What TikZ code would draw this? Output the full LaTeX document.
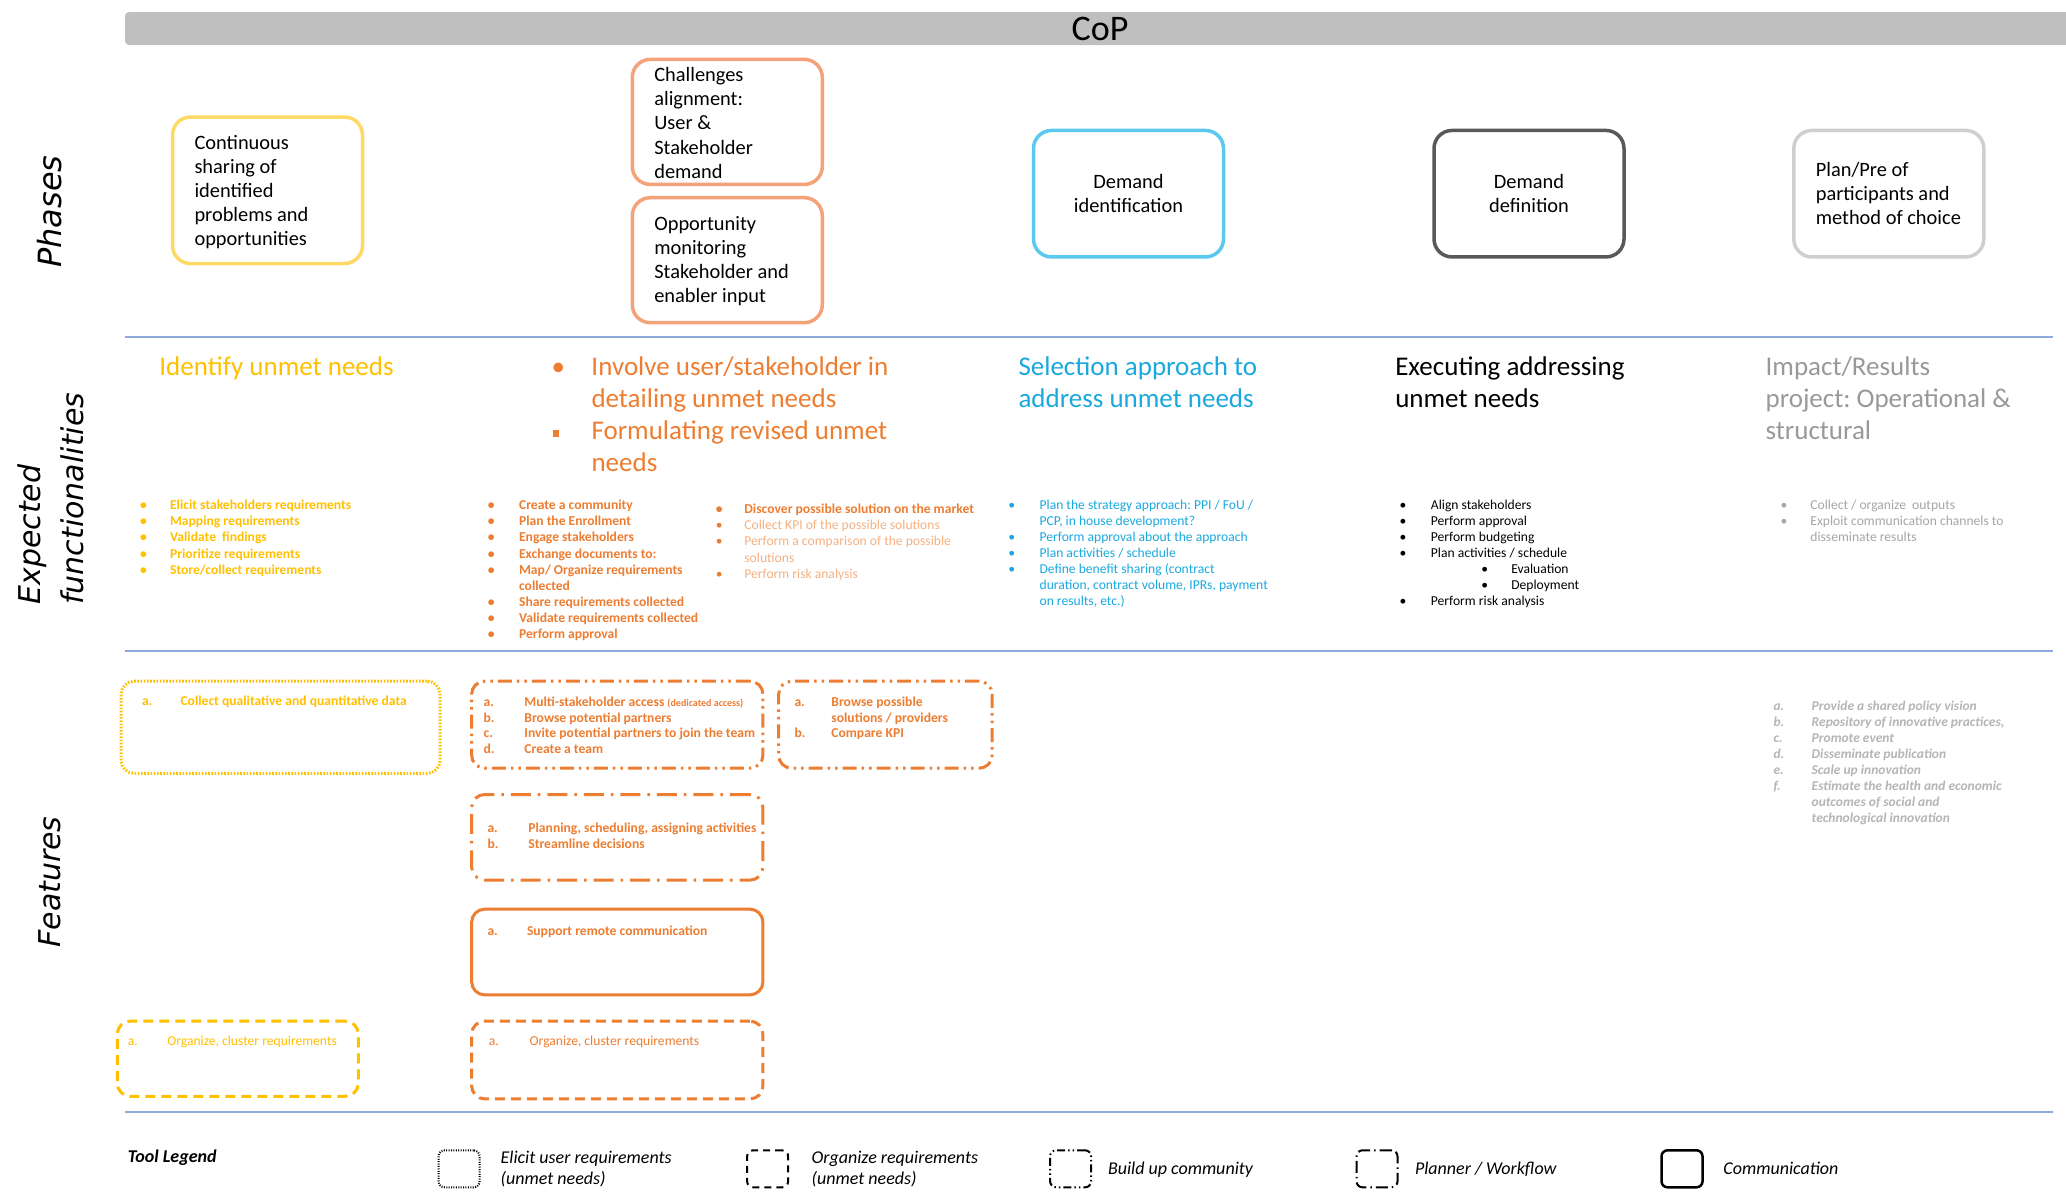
\documentclass[tikz,border=0pt]{standalone}
\usepackage{fontspec}
\setmainfont{Carlito}
\newfontfamily\sidefont{DejaVu Sans}
\frenchspacing

\definecolor{cYel}{HTML}{FFC000}
\definecolor{cYelBox}{HTML}{FFD966}
\definecolor{cOra}{HTML}{ED7D31}
\definecolor{cOraLt}{HTML}{F4B183}
\definecolor{cOraBox}{HTML}{F4A27A}
\definecolor{cBlue}{HTML}{1AA9DE}
\definecolor{cBlueBox}{HTML}{5BC8F0}
\definecolor{cDark}{HTML}{595959}
\definecolor{cLight}{HTML}{CFCFCF}
\definecolor{cGreyTxt}{HTML}{999999}
\definecolor{cGreySm}{HTML}{A6A6A6}
\definecolor{cGreyIt}{HTML}{B5B5B5}
\definecolor{cSep}{HTML}{8EA9DB}
\definecolor{cBar}{HTML}{BFBFBF}

\newcommand{\fs}[2]{\fontsize{#1}{#2}\selectfont}
% list helpers: bullet in a fixed-width box, continuation indent, stacked rows
\newcommand{\bul}[1]{\makebox[#1][l]{\textbullet}}
\newcommand{\lbl}[2]{\makebox[#1][l]{#2}}
\newcommand{\cont}[1]{\hspace*{#1}}
\newcommand{\rows}[1]{\begin{tabular}[t]{@{}l@{}}#1\end{tabular}}

\tikzset{
  every node/.style={inner sep=0pt, outer sep=0pt},
  phase/.style={draw, line width=3.5pt, rounded corners=18pt, minimum width=190pt},
  phasetext/.style={font=\fs{20.4}{24.1}, text=black},
  heading/.style={anchor=base west, font=\fs{27}{32.06}},
  small/.style={anchor=base west},
  feat/.style={anchor=base west, font=\fs{13.6}{15.8}\bfseries, text=cOra},
  tool/.style={draw, line width=3pt, rounded corners=13pt},
  dotbox/.style={tool, dash pattern=on 1.6pt off 1.6pt},
  dashbox/.style={tool, dash pattern=on 10pt off 6pt},
  ddotbox/.style={tool, dash pattern=on 14pt off 5pt on 2.5pt off 5pt on 2.5pt off 5pt},
  ldotbox/.style={tool, dash pattern=on 20pt off 7pt on 2.5pt off 7pt},
  sep/.style={draw=cSep, line width=1.6pt},
  side/.style={rotate=90, font=\sidefont\itshape\fs{30}{43.5}, align=left},
  legend/.style={anchor=base west, font=\fs{18}{21}\itshape},
  icon/.style={draw=black, line width=2pt, rounded corners=6pt,
    minimum width=41pt, minimum height=37pt},
}

\begin{document}
\begin{tikzpicture}[x=1pt, y=-1pt]
\useasboundingbox[fill=white] (0,0) rectangle (2066,1192);

% ---- header bar
\node[fill=cBar, rounded corners=4pt, minimum width=1960pt, minimum height=33pt,
      anchor=north west] (bar) at (125,12) {};
\node[font=\fs{36}{40}] (cop) at (1100,29) {CoP};

% ---- row separators
\draw[sep] (125,337) -- (2053,337);
\draw[sep] (125,651) -- (2053,651);
\draw[sep] (125,1112) -- (2053,1112);

% ---- side labels
\node[side, font=\sidefont\itshape\fs{32}{43.5}] (sPhases) at (50,211.5) {Phases};
\node[side] (sExpect) at (50.7,498.7) {Expected\\functionalities};
\node[side] (sFeat) at (50,882) {Features};

% ---- phases
\node[phase, draw=cYelBox, minimum height=146.5pt] (p1) at (267.5,190.3) {};
\node[phasetext, align=left, anchor=west] (p1t) at ([xshift=22pt,yshift=-1.5pt]p1.west)
  {Continuous\\sharing of\\identified\\problems and\\opportunities};
\node[phase, draw=cOraBox, minimum height=125pt] (p2a) at (727.3,121.9) {};
\node[phasetext, align=left, anchor=west] (p2at) at ([xshift=22pt,yshift=-1pt]p2a.west)
  {Challenges\\alignment:\\User \&\\Stakeholder\\demand};
\node[phase, draw=cOraBox, minimum height=125pt] (p2b) at (727.3,260.2) {};
\node[phasetext, align=left, anchor=west] (p2bt) at ([xshift=22pt,yshift=-1pt]p2b.west)
  {Opportunity\\monitoring\\Stakeholder and\\enabler input};
\node[phase, draw=cBlueBox, minimum height=126.5pt] (p3) at (1128.5,193.7) {};
\node[phasetext, align=center] (p3t) at (p3.center) {Demand\\identification};
\node[phase, draw=cDark, minimum height=126.5pt] (p4) at (1529,193.7) {};
\node[phasetext, align=center] (p4t) at (p4.center) {Demand\\definition};
\node[phase, draw=cLight, minimum height=126.5pt] (p5) at (1888.8,193.7) {};
\node[phasetext, align=left, anchor=west] (p5t) at ([xshift=22pt]p5.west)
  {Plan/Pre of\\participants and\\method of choice};

% ---- expected functionalities: headings
\node[heading, text=cYel] (h1) at (159.4,375.6) {Identify unmet needs};
\node[heading, text=cOra] (h2) at (551.5,375.6) {\rows{%
  \bul{40pt}Involve user/stakeholder in\\
  \cont{40pt}detailing unmet needs\\
  \lbl{40pt}{\hspace{1.2pt}\rule[3pt]{6.5pt}{6.5pt}}Formulating revised unmet\\
  \cont{40pt}needs}};
\node[heading, text=cBlue] (h3) at (1018.5,375.6) {\rows{Selection approach to\\address unmet needs}};
\node[heading, text=black] (h4) at (1395.3,375.6) {\rows{Executing addressing\\unmet needs}};
\node[heading, text=cGreyTxt] (h5) at (1765.6,375.6) {\rows{Impact/Results\\project: Operational \&\\structural}};

% ---- expected functionalities: item lists
\node[small, text=cYel, font=\fs{13.6}{16.14}\bfseries] (l1) at (140.1,509.6) {\rows{%
  \bul{30pt}Elicit stakeholders requirements\\
  \bul{30pt}Mapping requirements\\
  \bul{30pt}Validate\ \ findings\\
  \bul{30pt}Prioritize requirements\\
  \bul{30pt}Store/collect requirements}};
\node[small, text=cOra, font=\fs{13.6}{16.14}\bfseries] (l2) at (487.9,509.6) {\rows{%
  \bul{31.2pt}Create a community\\
  \bul{31.2pt}Plan the Enrollment\\
  \bul{31.2pt}Engage stakeholders\\
  \bul{31.2pt}Exchange documents to:\\
  \bul{31.2pt}Map/ Organize requirements\\
  \cont{31.2pt}collected\\
  \bul{31.2pt}Share requirements collected\\
  \bul{31.2pt}Validate requirements collected\\
  \bul{31.2pt}Perform approval}};
\node[small, text=cOraLt, font=\fs{13.6}{16.14}] (l3) at (715.9,513.6) {\rows{%
  {\color{cOra}\bfseries\bul{28.5pt}Discover possible solution on the market}\\
  {\color{cOra}\bul{28.5pt}}Collect KPI of the possible solutions\\
  {\color{cOra}\bul{28.5pt}}Perform a comparison of the possible\\
  \cont{28.5pt}solutions\\
  {\color{cOra}\bul{28.5pt}}Perform risk analysis}};
\node[small, text=cBlue, font=\fs{13.6}{16.03}] (l4) at (1008.4,509.6) {\rows{%
  \bul{31.2pt}Plan the strategy approach: PPI / FoU /\\
  \cont{31.2pt}PCP, in house development?\\
  \bul{31.2pt}Perform approval about the approach\\
  \bul{31.2pt}Plan activities / schedule\\
  \bul{31.2pt}Define benefit sharing (contract\\
  \cont{31.2pt}duration, contract volume, IPRs, payment\\
  \cont{31.2pt}on results, etc.)}};
\node[small, text=black, font=\fs{13.6}{16.03}] (l5) at (1399.7,509.6) {\rows{%
  \bul{31.2pt}Align stakeholders\\
  \bul{31.2pt}Perform approval\\
  \bul{31.2pt}Perform budgeting\\
  \bul{31.2pt}Plan activities / schedule\\
  \lbl{111.6pt}{\hspace{81.7pt}\textbullet}Evaluation\\
  \lbl{111.6pt}{\hspace{81.7pt}\textbullet}Deployment\\
  \bul{31.2pt}Perform risk analysis}};
\node[small, text=cGreySm, font=\fs{13.6}{16.03}] (l6) at (1780.5,509.6) {\rows{%
  \bul{29.9pt}Collect / organize\ \ outputs\\
  \bul{29.9pt}Exploit communication channels to\\
  \cont{29.9pt}disseminate results}};

% ---- features: tool boxes
\node[dotbox, draw=cYel, minimum width=318.8pt, minimum height=92.2pt] (f1) at (280.6,727.3) {};
\node[ddotbox, draw=cOra, minimum width=291.3pt, minimum height=87pt] (f2) at (617.3,724.7) {};
\node[ddotbox, draw=cOra, minimum width=213.5pt, minimum height=87pt] (f3) at (885.4,724.7) {};
\node[ldotbox, draw=cOra, minimum width=291.3pt, minimum height=85.6pt] (f4) at (617.3,837.3) {};
\node[tool, draw=cOra, minimum width=291.3pt, minimum height=85.7pt] (f5) at (617.3,952) {};
\node[dashbox, draw=cYel, minimum width=241.1pt, minimum height=75.1pt] (f6) at (237.8,1058.7) {};
\node[dashbox, draw=cOra, minimum width=291.3pt, minimum height=77.8pt] (f7) at (617.3,1060) {};

% ---- features: box contents
\node[feat, text=cYel] (t1) at (142,705) {\lbl{38.5pt}{a.}Collect qualitative and quantitative data};
\node[feat] (t2) at (483.6,706.3) {\rows{%
  \lbl{40.8pt}{a.}Multi-stakeholder access {\fs{10}{10}(dedicated access)}\\
  \lbl{40.8pt}{b.}Browse potential partners\\
  \lbl{40.8pt}{c.}Invite potential partners to join the team\\
  \lbl{40.8pt}{d.}Create a team}};
\node[feat] (t3) at (794.5,706.3) {\rows{%
  \lbl{36.9pt}{a.}Browse possible\\
  \cont{36.9pt}solutions / providers\\
  \lbl{36.9pt}{b.}Compare KPI}};
\node[feat] (t4) at (487.5,832.8) {\rows{%
  \lbl{40.9pt}{a.}Planning, scheduling, assigning activities\\
  \lbl{40.9pt}{b.}Streamline decisions}};
\node[feat] (t5) at (487.5,935.5) {\lbl{39.5pt}{a.}Support remote communication};
\node[feat, text=cYel, font=\fs{13.6}{15.8}] (t6) at (127.8,1045) {\lbl{39.5pt}{a.}Organize, cluster requirements};
\node[feat, font=\fs{13.6}{15.8}] (t7) at (488.8,1045) {\lbl{40.9pt}{a.}Organize, cluster requirements};

\node[anchor=base west, text=cGreyIt, font=\fs{13.5}{16.0}\bfseries\itshape] (t8) at (1773.5,710.2) {\rows{%
  \lbl{38.2pt}{a.}Provide a shared policy vision\\
  \lbl{38.2pt}{b.}Repository of innovative practices,\\
  \lbl{38.2pt}{c.}Promote event\\
  \lbl{38.2pt}{d.}Disseminate publication\\
  \lbl{38.2pt}{e.}Scale up innovation\\
  \lbl{38.2pt}{f.}Estimate the health and economic\\
  \cont{38.2pt}outcomes of social and\\
  \cont{38.2pt}technological innovation}};

% ---- tool legend
\node[legend, font=\fs{18}{21}\bfseries\itshape] (lgTitle) at (127.8,1162) {Tool Legend};
\node[icon, dash pattern=on 1pt off 1.4pt] (ic1) at (459.1,1168.8) {};
\node[legend] (lg1) at (500.7,1163) {\rows{Elicit user requirements\\(unmet needs)}};
\node[icon, dash pattern=on 7pt off 5pt] (ic2) at (767.6,1168.8) {};
\node[legend] (lg2) at (811.6,1163) {\rows{Organize requirements\\(unmet needs)}};
\node[icon, dash pattern=on 8pt off 3pt on 1.5pt off 3pt on 1.5pt off 3pt] (ic3) at (1070.6,1168.8) {};
\node[legend] (lg3) at (1108,1174) {Build up community};
\node[icon, dash pattern=on 12pt off 4pt on 1.5pt off 4pt] (ic4) at (1377,1168.8) {};
\node[legend] (lg4) at (1415,1174) {Planner / Workflow};
\node[icon, line width=2.5pt] (ic5) at (1682,1168.8) {};
\node[legend] (lg5) at (1723.4,1174) {Communication};
\end{tikzpicture}
\end{document}
